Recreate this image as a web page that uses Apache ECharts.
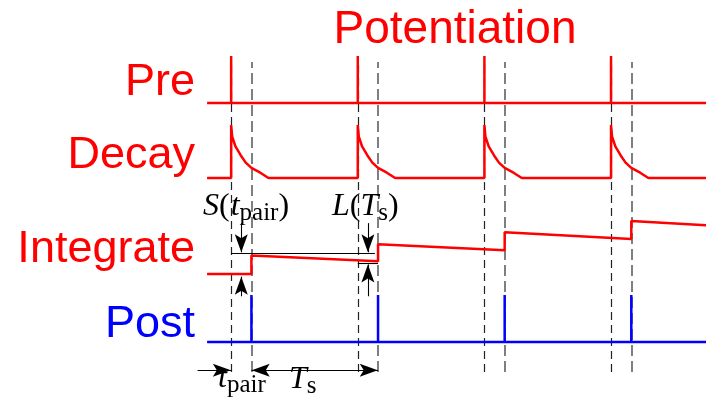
<!DOCTYPE html>
<html><head><meta charset="utf-8">
<script src="https://cdn.jsdelivr.net/npm/echarts@6/dist/echarts.min.js"></script>
<style>html,body{margin:0;padding:0;background:#fff}#c{width:706px;height:411px}</style>
</head><body><div id="c"></div>
<script>
// ---- data (time in arbitrary units, signal amplitudes normalised) ----
const timeMin = -6.5, timeMax = 75, traceStart = -3.8;
const preTimes = [0, 20, 40, 60];
const postTimes = [3.2, 23.2, 43.2, 63.2];
const preHeight = [1, 1, 1, 1];
const postHeight = [1, 1, 1, 1];
const decayOffsets = [0, 0.16, 0.7, 1.5, 2.3, 3.2, 4.6, 5.9];
const decayShape = [1, 0.78, 0.59, 0.43, 0.29, 0.19, 0.1, 0];
const integrateBefore = [0, 0.24, 0.45, 0.66];
const integrateAfter = [0.35, 0.56, 0.79, 1.0];
const integrateEnd = 0.92;
const rowLabels = ['Pre', 'Decay', 'Integrate', 'Post'];
const titleText = 'Potentiation';

// ---- build series data ----
function spikeTrain(times, heights) {
  const d = [[traceStart, 0]];
  times.forEach((t, i) => { d.push([t, 0], [t, heights[i]], [t, 0]); });
  d.push([timeMax, 0]);
  return d;
}
const preData = spikeTrain(preTimes, preHeight);
const postData = spikeTrain(postTimes, postHeight);
const decayData = [[traceStart, 0]];
preTimes.forEach(t => {
  decayData.push([t, 0]);
  decayOffsets.forEach((o, i) => decayData.push([t + o, decayShape[i]]));
});
decayData.push([timeMax, 0]);
const integrateData = [[traceStart, 0]];
postTimes.forEach((t, i) => { integrateData.push([t, integrateBefore[i]], [t, integrateAfter[i]]); });
integrateData.push([timeMax, integrateEnd]);

// ---- layout ----
const RED = '#ff0000', BLUE = '#0000ff';
const grids = [
  {left: 190, right: 0, top: 56, height: 47},      // Pre
  {left: 190, right: 0, top: 125, height: 53},     // Decay
  {left: 190, right: 0, top: 194.5, height: 132.5},// Integrate
  {left: 190, right: 0, top: 295, height: 94},     // Post
  {left: 190, right: 0, top: 62, height: 310}      // guides
];
const yRanges = [[0, 1], [0, 1], [-1, 1.5], [-1, 1], [0, 1]];
const xAxes = grids.map((g, i) => ({type: 'value', gridIndex: i, min: timeMin, max: timeMax, show: false}));
const yAxes = grids.map((g, i) => ({type: 'value', gridIndex: i, min: yRanges[i][0], max: yRanges[i][1], show: false}));

function trace(idx, data, color) {
  return {type: 'line', xAxisIndex: idx, yAxisIndex: idx, data, showSymbol: false, symbol: 'none',
    lineStyle: {color, width: 2.5}, z: 5, animation: false, silent: true, clip: false};
}
function shafts(idx, segs) {
  return {type: 'line', xAxisIndex: idx, yAxisIndex: idx, data: [], z: 6, animation: false, silent: true,
    markLine: {silent: true, animation: false, label: {show: false}, symbol: 'none',
      lineStyle: {color: '#000', width: 1.1, type: 'solid'},
      data: segs.map(s => [{coord: s[0]}, {coord: s[1]}])}};
}
// arrowhead shapes (tip first), concave back like LaTeX arrows
const HEADS = {
  up:    {path: 'path://M6,0 L12,18 L6,14 L0,18 Z', size: [13, 18], off: [0, 9]},
  down:  {path: 'path://M6,18 L12,0 L6,4 L0,0 Z', size: [13, 18], off: [0, -9]},
  right: {path: 'path://M18,6 L0,12 L4,6 L0,0 Z', size: [18, 13], off: [-9, 0]},
  left:  {path: 'path://M0,6 L18,0 L14,6 L18,12 Z', size: [18, 13], off: [9, 0]}
};
function heads(idx, tips, dir) {
  const h = HEADS[dir];
  return {type: 'scatter', xAxisIndex: idx, yAxisIndex: idx, data: tips, symbol: h.path,
    symbolSize: h.size, symbolOffset: h.off, symbolKeepAspect: false,
    itemStyle: {color: '#000', opacity: 1}, z: 7, animation: false, silent: true, clip: false};
}
const guideLines = [];
preTimes.forEach(t => guideLines.push({xAxis: t, lineStyle: {color: '#222', width: 1.2, type: [8, 5]}}));
postTimes.forEach(t => guideLines.push({xAxis: t, lineStyle: {color: '#555', width: 1.5, type: [11, 5]}}));
const guideSeries = {type: 'line', xAxisIndex: 4, yAxisIndex: 4, data: [], z: 1, animation: false, silent: true,
  markLine: {silent: true, animation: false, symbol: 'none', label: {show: false}, data: guideLines}};

const midA = (preTimes[0] + postTimes[0]) / 2, midB = (preTimes[1] + postTimes[1]) / 2;
// reference levels and arrows in the Integrate panel
const refUpper = 0.39, refLower = 0.2, arrowTop = 0.96, arrowBottom = -0.42, timeRow = -0.6;
const integrateSeries = [
  shafts(2, [
    [[preTimes[0], refUpper], [postTimes[1] - 0.5, refUpper]],
    [[preTimes[1], refLower], [postTimes[1], refLower]],
    [[midA, arrowTop], [midA, refUpper + 0.02]],
    [[midB, arrowTop], [midB, refUpper + 0.02]],
    [[midA, arrowBottom], [midA, -0.05]],
    [[midB, arrowBottom], [midB, refLower - 0.02]]
  ]),
  heads(2, [[midA, refUpper + 0.02], [midB, refUpper + 0.02]], 'down'),
  heads(2, [[midA, -0.05], [midB, refLower - 0.02]], 'up')
];
const postSeries = [
  shafts(3, [
    [[-5.3, timeRow], [preTimes[0], timeRow]],
    [[postTimes[0], timeRow], [postTimes[1], timeRow]]
  ]),
  heads(3, [[preTimes[0] - 0.05, timeRow], [postTimes[1] - 0.05, timeRow]], 'right'),
  heads(3, [[postTimes[0] + 0.05, timeRow]], 'left')
];

// ---- text helpers ----
const cv = document.createElement('canvas').getContext('2d');
function midOffset(font) {
  cv.font = font; cv.textBaseline = 'alphabetic';
  const a = cv.measureText('Hg').fontBoundingBoxAscent;
  cv.textBaseline = 'middle';
  const m = cv.measureText('Hg').fontBoundingBoxAscent;
  cv.textBaseline = 'alphabetic';
  return a - m;
}
function textEl(text, x, baseline, font, color, align) {
  return {type: 'text', x: x, y: baseline - midOffset(font), z: 20, silent: true,
    style: {text, font, fill: color, align: align || 'left', textAlign: align || 'left',
      verticalAlign: 'middle', textVerticalAlign: 'middle'}};
}
const SANS = '"Liberation Sans", Arial, sans-serif';
const SERIF = '"Liberation Serif", "Times New Roman", serif';
function mathEls(pieces, x, baseline) {
  const els = [];
  pieces.forEach(p => {
    const font = (p.it ? 'italic ' : '') + p.size + 'px ' + SERIF;
    els.push(textEl(p.t, x + (p.dx || 0), baseline + (p.dy || 0), font, '#000'));
    cv.font = font; x += cv.measureText(p.t).width + (p.dx || 0);
  });
  return els;
}
const graphics = [];
graphics.push(textEl(titleText, 455, 43, '46px ' + SANS, RED, 'center'));
const labelBase = [95, 168, 262, 337];
rowLabels.forEach((s, i) => graphics.push(textEl(s, 195, labelBase[i], '45px ' + SANS, i === 3 ? BLUE : RED, 'right')));
graphics.push(...mathEls([{t: 'S', it: 1, size: 32}, {t: '(', size: 32}, {t: 't', it: 1, size: 32, dx: 1}, {t: 'pair', size: 25, dy: 5}, {t: ')', size: 32}], 203, 215));
graphics.push(...mathEls([{t: 'L', it: 1, size: 32}, {t: '(', size: 32}, {t: 'T', it: 1, size: 32}, {t: 's', size: 25, dy: 5}, {t: ')', size: 32}], 332, 215));
graphics.push(...mathEls([{t: 't', it: 1, size: 32}, {t: 'pair', size: 25, dy: 5}], 218, 387));
graphics.push(...mathEls([{t: 'T', it: 1, size: 32}, {t: 's', size: 25, dy: 5}], 289, 388));

const chart = echarts.init(document.getElementById('c'), null, {renderer: 'canvas'});
chart.setOption({
  animation: false,
  backgroundColor: '#fff',
  grid: grids,
  xAxis: xAxes,
  yAxis: yAxes,
  series: [
    guideSeries,
    trace(0, preData, RED),
    trace(1, decayData, RED),
    trace(2, integrateData, RED),
    trace(3, postData, BLUE),
    ...integrateSeries,
    ...postSeries
  ],
  graphic: graphics
});
</script></body></html>
